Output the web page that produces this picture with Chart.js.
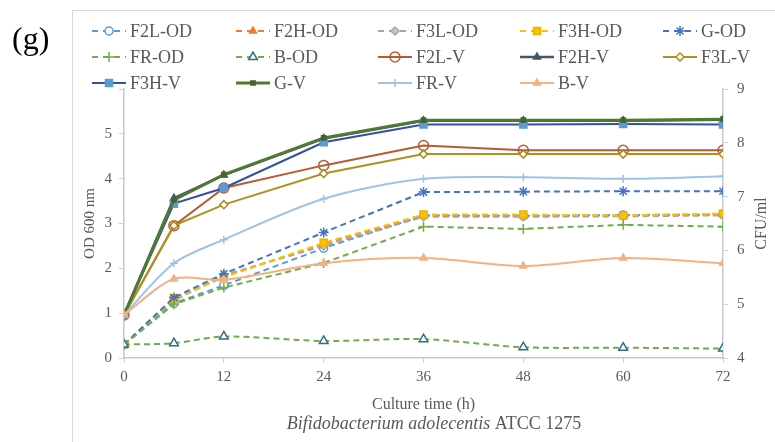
<!DOCTYPE html>
<html>
<head>
<meta charset="utf-8">
<title>Growth of B. adolescentis</title>
<script src="https://cdn.jsdelivr.net/npm/chart.js@4/dist/chart.umd.min.js"></script>
<style>
  html, body { margin: 0; padding: 0; background: #fff; }
  #wrap { width: 775px; height: 442px; }
</style>
</head>
<body>
<div id="wrap"><canvas id="growth" width="775" height="442"></canvas></div>
<script>
// sampling times (h) and the labelled x ticks
const hours = [0, 6, 12, 24, 36, 48, 60, 72];
const xTicks = [0, 12, 24, 36, 48, 60, 72];

// OD 600 nm, left axis
const f2lOD = [0.3, 1.22, 1.62, 2.45, 3.18, 3.17, 3.19, 3.2];
const f2hOD = [0.3, 1.3, 1.82, 2.55, 3.17, 3.17, 3.17, 3.2];
const f3lOD = [0.3, 1.28, 1.85, 2.5, 3.15, 3.15, 3.16, 3.18];
const f3hOD = [0.3, 1.33, 1.8, 2.57, 3.2, 3.2, 3.18, 3.22];
const gOD = [0.3, 1.35, 1.88, 2.8, 3.7, 3.71, 3.72, 3.72];
const frOD = [0.3, 1.2, 1.57, 2.12, 2.93, 2.88, 2.97, 2.93];
const bOD = [0.3, 0.33, 0.48, 0.38, 0.42, 0.24, 0.23, 0.21];

// viable counts (log CFU/ml), right axis
const f2lV = [4.8, 6.46, 7.16, 7.58, 7.95, 7.86, 7.86, 7.86];
const f2hV = [4.8, 6.97, 7.4, 8.08, 8.41, 8.41, 8.41, 8.43];
const f3lV = [4.8, 6.46, 6.85, 7.43, 7.79, 7.79, 7.79, 7.79];
const f3hV = [4.8, 6.87, 7.16, 8.01, 8.34, 8.34, 8.35, 8.34];
const gV = [4.8, 6.94, 7.41, 8.09, 8.42, 8.42, 8.42, 8.44];
const frV = [4.8, 5.76, 6.2, 6.96, 7.33, 7.36, 7.33, 7.38];
const bV = [4.8, 5.47, 5.45, 5.76, 5.86, 5.71, 5.86, 5.76];

const SERIF = "'Liberation Serif', 'Times New Roman', serif";
const GREY = '#595959';

function pts(values) {
  return hours.map((h, i) => ({ x: h, y: values[i] }));
}

function odSeries(label, values, line, mark, style, fill, radius) {
  return {
    label, data: pts(values), yAxisID: 'yOD',
    borderColor: line, borderWidth: 2, borderDash: [6, 4],
    pointStyle: style, pointRadius: radius || 4, pointBorderWidth: 1.5,
    pointBorderColor: mark, pointBackgroundColor: fill,
    tension: 0
  };
}

function vSeries(label, values, line, mark, style, fill, width, radius) {
  return {
    label, data: pts(values), yAxisID: 'yV',
    borderColor: line, borderWidth: width || 2,
    pointStyle: style, pointRadius: radius || 4, pointBorderWidth: 1.5,
    pointBorderColor: mark, pointBackgroundColor: fill,
    tension: 0
  };
}

const datasets = [
  odSeries('F2L-OD', f2lOD, '#5B9BD5', '#5B9BD5', 'circle', '#fff'),
  odSeries('F2H-OD', f2hOD, '#ED7D31', '#ED7D31', 'triangle', '#ED7D31'),
  odSeries('F3L-OD', f3lOD, '#A5A5A5', '#A5A5A5', 'rectRot', '#C9C9C9'),
  odSeries('F3H-OD', f3hOD, '#FFC000', '#E8B400', 'rect', '#FFC000', 5),
  odSeries('G-OD', gOD, '#4472C4', '#4472C4', 'star', '#4472C4', 5),
  odSeries('FR-OD', frOD, '#70AD47', '#70AD47', 'cross', '#70AD47', 5),
  odSeries('B-OD', bOD, '#70AD47', '#2E6E85', 'triangle', '#fff', 5),
  vSeries('F2L-V', f2lV, '#B85A32', '#B85A32', 'circle', 'rgba(255,255,255,0)', 2, 5),
  vSeries('F2H-V', f2hV, '#44546A', '#44546A', 'triangle', '#44546A', 2.5),
  vSeries('F3L-V', f3lV, '#B0911F', '#A88A1E', 'rectRot', '#fff', 2),
  vSeries('F3H-V', f3hV, '#34509E', '#5B9BD5', 'rect', '#5B9BD5', 2, 5),
  vSeries('G-V', gV, '#4E7A33', '#43682B', 'rect', '#43682B', 3, 3),
  vSeries('FR-V', frV, '#9DC3E6', '#9DC3E6', 'cross', '#9DC3E6', 2),
  vSeries('B-V', bV, '#F4B183', '#F4B183', 'triangle', '#F4B183', 2)
];
// Excel-style smoothing on the wavy curves
[6, 12, 13].forEach(i => { datasets[i].tension = 0.3; });
// later series sit on top of earlier ones
datasets.forEach((d, i) => { d.order = datasets.length - i; });

function drawMarker(ctx, ds, x, y) {
  ctx.save();
  ctx.fillStyle = ds.pointBackgroundColor;
  ctx.strokeStyle = ds.pointBorderColor;
  ctx.lineWidth = ds.pointBorderWidth;
  Chart.helpers.drawPoint(ctx, {
    pointStyle: ds.pointStyle, rotation: 0,
    radius: ds.pointRadius, borderWidth: ds.pointBorderWidth
  }, x, y);
  ctx.restore();
}

// frame, panel letter, grid legend, right title and species caption
const decorations = {
  id: 'decorations',
  beforeDraw(chart) {
    const ctx = chart.ctx;
    ctx.save();
    ctx.strokeStyle = '#D9D9D9';
    ctx.lineWidth = 1;
    ctx.strokeRect(72.5, 10.5, 760, 500);
    ctx.restore();
  },
  afterDraw(chart) {
    const ctx = chart.ctx;
    ctx.save();

    ctx.fillStyle = '#000';
    ctx.font = '32px ' + SERIF;
    ctx.textBaseline = 'alphabetic';
    ctx.textAlign = 'left';
    ctx.fillText('(g)', 12, 49);

    // legend, 5 columns
    const colX = [92, 236, 378, 520, 663];
    const rowY = [31, 57, 83];
    ctx.font = '18px ' + SERIF;
    ctx.textBaseline = 'middle';
    chart.data.datasets.forEach((ds, i) => {
      const x = colX[i % 5];
      const y = rowY[Math.floor(i / 5)];
      ctx.save();
      ctx.strokeStyle = ds.borderColor;
      ctx.lineWidth = ds.borderWidth;
      if (ds.borderDash) ctx.setLineDash([6, 5]);
      ctx.beginPath();
      ctx.moveTo(x, y);
      ctx.lineTo(x + 34, y);
      ctx.stroke();
      ctx.restore();
      drawMarker(ctx, ds, x + 17, y);
      ctx.fillStyle = GREY;
      ctx.fillText(ds.label, x + 38, y + 1);
    });

    // right axis title reads bottom-to-top like the left one
    const area = chart.chartArea;
    ctx.save();
    ctx.translate(762, (area.top + area.bottom) / 2);
    ctx.rotate(-Math.PI / 2);
    ctx.font = '16px ' + SERIF;
    ctx.fillStyle = GREY;
    ctx.textAlign = 'center';
    ctx.textBaseline = 'middle';
    ctx.fillText('CFU/ml', 0, 0);
    ctx.restore();

    // species caption, genus and species in italics
    const italic = 'Bifidobacterium adolecentis ';
    const plain = 'ATCC 1275';
    ctx.textBaseline = 'middle';
    ctx.textAlign = 'left';
    ctx.font = 'italic 18px ' + SERIF;
    const wi = ctx.measureText(italic).width;
    ctx.font = '18px ' + SERIF;
    const wp = ctx.measureText(plain).width;
    const x0 = 434 - (wi + wp) / 2;
    ctx.fillStyle = GREY;
    ctx.font = 'italic 18px ' + SERIF;
    ctx.fillText(italic, x0, 424);
    ctx.font = '18px ' + SERIF;
    ctx.fillText(plain, x0 + wi, 424);
    ctx.restore();
  }
};

const axisGrid = {
  display: true, drawOnChartArea: false, drawTicks: true,
  tickLength: 5, color: '#D0D0D0'
};
const axisBorder = { display: true, color: '#C8C8C8', width: 1.5 };
const tickFont = { family: SERIF, size: 15 };

new Chart(document.getElementById('growth'), {
  type: 'line',
  data: { datasets },
  options: {
    responsive: false,
    animation: false,
    layout: { padding: { left: 72, top: 89, right: 0, bottom: 0 } },
    plugins: {
      legend: { display: false },
      tooltip: { enabled: false }
    },
    scales: {
      x: {
        type: 'linear', min: 0, max: 72,
        afterBuildTicks: s => { s.ticks = xTicks.map(v => ({ value: v })); },
        afterFit: s => { s.height = 84; },
        grid: axisGrid, border: axisBorder,
        ticks: { font: tickFont, color: GREY, padding: 5, maxRotation: 0 },
        title: {
          display: true, text: 'Culture time (h)', color: GREY,
          font: { family: SERIF, size: 16 }, padding: { top: 0, bottom: 28 }
        }
      },
      yOD: {
        type: 'linear', position: 'left', min: 0, max: 6,
        afterFit: s => { s.width = 52; },
        grid: axisGrid, border: axisBorder,
        ticks: {
          stepSize: 1, font: tickFont, color: GREY, padding: 7,
          callback: v => (v === 6 ? '' : v)
        },
        title: {
          display: true, text: 'OD 600 nm', color: GREY,
          font: { family: SERIF, size: 15 }, padding: { top: 9, bottom: 0 }
        }
      },
      yV: {
        type: 'linear', position: 'right', min: 4, max: 9,
        afterFit: s => { s.width = 52; },
        grid: axisGrid, border: axisBorder,
        ticks: { stepSize: 1, font: tickFont, color: GREY, padding: 9 }
      }
    }
  },
  plugins: [decorations]
});
</script>
</body>
</html>
